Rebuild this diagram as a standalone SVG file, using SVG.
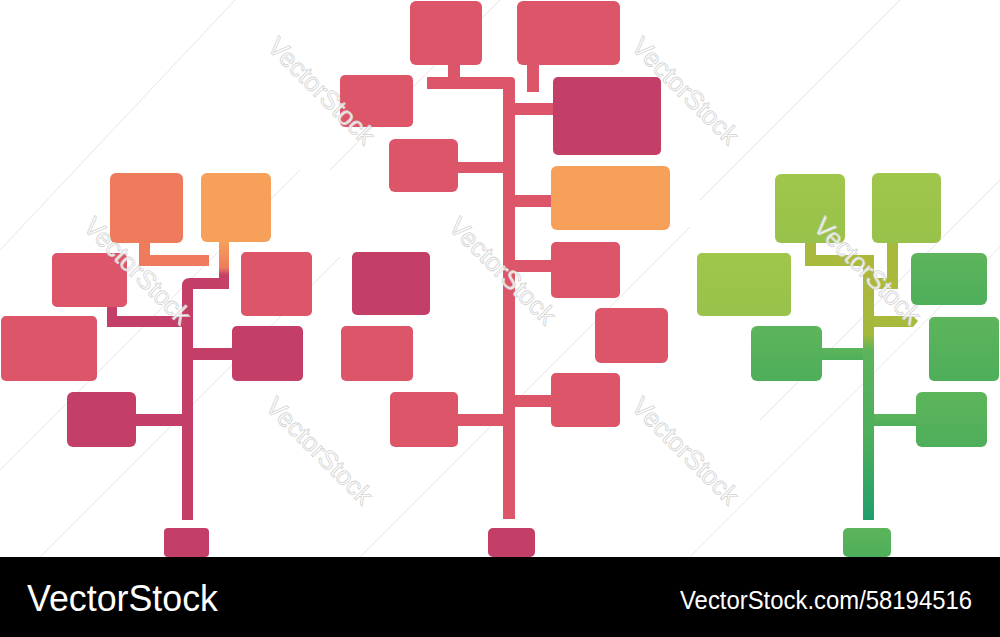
<svg xmlns="http://www.w3.org/2000/svg" width="1000" height="637" viewBox="0 0 1000 637">
<defs>
<style>
.pk{fill:#DD5569}
.dk{fill:#C43F67}
.o1{fill:#EE7B5C}
.o2{fill:#F7A05A}
.lg{fill:url(#gLight)}
.gr{fill:url(#gGreen)}
.ol{fill:#A9B93B}
.wm{font-family:"Liberation Sans",Arial,sans-serif;font-size:26px;fill:#ffffff;fill-opacity:0.85;stroke:#d4d4d4;stroke-width:0.8}
.wl{stroke:#e6e6e6;stroke-width:1}
.bar{font-family:"Liberation Sans",Arial,sans-serif;fill:#ffffff}
</style>
<linearGradient id="gLight" x1="0" y1="0" x2="0" y2="1">
<stop offset="0" stop-color="#A0C64B"/><stop offset="1" stop-color="#98C24B"/>
</linearGradient>
<linearGradient id="gGreen" x1="0" y1="0" x2="0" y2="1">
<stop offset="0" stop-color="#5DB55B"/><stop offset="1" stop-color="#4EAE5A"/>
</linearGradient>
<linearGradient id="gTrunk" gradientUnits="userSpaceOnUse" x1="0" y1="255" x2="0" y2="520">
<stop offset="0" stop-color="#AEB83A"/><stop offset="0.3" stop-color="#A5B83C"/><stop offset="0.36" stop-color="#5DB45B"/><stop offset="0.7" stop-color="#4CAE5C"/><stop offset="1" stop-color="#1F9F6C"/>
</linearGradient>
<linearGradient id="gStub" gradientUnits="userSpaceOnUse" x1="0" y1="242" x2="0" y2="289">
<stop offset="0" stop-color="#F7A05A"/><stop offset="0.55" stop-color="#EE7B5C"/><stop offset="0.7" stop-color="#C64068"/>
</linearGradient>
</defs>
<rect width="1000" height="637" fill="#ffffff"/>

<g id="watermark-lines">
<line class="wl" x1="0" y1="250" x2="235" y2="0"/>
<line class="wl" x1="0" y1="470" x2="300" y2="170"/>
<line class="wl" x1="40" y1="557" x2="340" y2="257"/>
<line class="wl" x1="330" y1="170" x2="500" y2="0"/>
<line class="wl" x1="360" y1="557" x2="690" y2="227"/>
<line class="wl" x1="700" y1="200" x2="900" y2="0"/>
<line class="wl" x1="690" y1="557" x2="1000" y2="247"/>
<line class="wl" x1="760" y1="420" x2="1000" y2="180"/>
</g>

<g id="connectors">
<rect class="o1" x="139" y="243" width="11" height="23"/>
<rect class="o1" x="139" y="255" width="70" height="11"/>
<rect x="219" y="242" width="10" height="47" fill="url(#gStub)"/>
<path class="dk" d="M182 520 V286 Q182 278 190 278 H219 V289 H193 V520 Z"/>
<rect class="dk" x="107" y="307" width="10" height="20"/>
<rect class="dk" x="107" y="316" width="75" height="11"/>
<rect class="dk" x="136" y="414" width="46" height="12"/>
<rect class="dk" x="193" y="348" width="39" height="12"/>
<rect class="pk" x="448" y="65" width="12" height="13"/>
<path class="pk" d="M427 77 H511 Q515 77 515 81 V519 H503 V89 H427 Z"/>
<rect class="pk" x="527" y="65" width="12" height="27"/>
<rect class="pk" x="515" y="103" width="38" height="12"/>
<rect class="pk" x="458" y="162" width="45" height="11"/>
<rect class="pk" x="515" y="195" width="36" height="12"/>
<rect class="pk" x="515" y="260" width="36" height="12"/>
<rect class="pk" x="515" y="395" width="36" height="12"/>
<rect class="pk" x="458" y="414" width="45" height="12"/>
<rect class="ol" x="805" y="243" width="11" height="23"/>
<rect class="ol" x="805" y="255" width="69" height="11"/>
<rect class="ol" x="887" y="243" width="11" height="46"/>
<rect class="ol" x="874" y="278" width="24" height="11"/>
<rect x="863" y="255" width="11" height="265" fill="url(#gTrunk)"/>
<path class="ol" d="M874 316 H913 L918 321 L913 327 H874 Z"/>
<rect class="gr" x="822" y="348" width="41" height="12"/>
<rect class="gr" x="874" y="414" width="42" height="12"/>
</g>

<g id="left-top-1"><rect class="o1" x="110" y="173" width="73" height="70" rx="6"/></g>
<g id="left-top-2"><rect class="o2" x="201" y="173" width="70" height="69" rx="6"/></g>
<g id="left-a"><rect class="pk" x="52" y="253" width="75" height="54" rx="5"/></g>
<g id="left-b"><rect class="pk" x="1" y="316" width="96" height="65" rx="5"/></g>
<g id="left-c"><rect class="dk" x="67" y="392" width="69" height="55" rx="6"/></g>
<g id="left-d"><rect class="pk" x="241" y="252" width="71" height="64" rx="5"/></g>
<g id="left-e"><rect class="dk" x="232" y="326" width="71" height="55" rx="5"/></g>
<g id="left-root"><rect class="dk" x="164" y="528" width="45" height="29" rx="4"/></g>

<g id="mid-top-1"><rect class="pk" x="410" y="1" width="72" height="64" rx="6"/></g>
<g id="mid-top-2"><rect class="pk" x="517" y="1" width="103" height="64" rx="6"/></g>
<g id="mid-l1"><rect class="pk" x="340" y="75" width="73" height="52" rx="5"/></g>
<g id="mid-r1"><rect class="dk" x="553" y="77" width="108" height="78" rx="5"/></g>
<g id="mid-l2"><rect class="pk" x="389" y="139" width="69" height="53" rx="6"/></g>
<g id="mid-r2"><rect class="o2" x="551" y="166" width="119" height="64" rx="6"/></g>
<g id="mid-r3"><rect class="pk" x="551" y="242" width="69" height="56" rx="5"/></g>
<g id="mid-l3"><rect class="dk" x="352" y="252" width="78" height="63" rx="5"/></g>
<g id="mid-r4"><rect class="pk" x="595" y="308" width="73" height="55" rx="6"/></g>
<g id="mid-l4"><rect class="pk" x="341" y="326" width="72" height="55" rx="5"/></g>
<g id="mid-r5"><rect class="pk" x="551" y="373" width="69" height="54" rx="5"/></g>
<g id="mid-l5"><rect class="pk" x="390" y="392" width="68" height="55" rx="5"/></g>
<g id="mid-root"><rect class="dk" x="488" y="528" width="47" height="29" rx="5"/></g>

<g id="right-top-1"><rect class="lg" x="775" y="174" width="70" height="69" rx="6"/></g>
<g id="right-top-2"><rect class="lg" x="872" y="173" width="69" height="70" rx="6"/></g>
<g id="right-l1"><rect class="lg" x="697" y="253" width="94" height="63" rx="5"/></g>
<g id="right-l2"><rect class="gr" x="751" y="326" width="71" height="55" rx="6"/></g>
<g id="right-r1"><rect class="gr" x="911" y="253" width="76" height="52" rx="6"/></g>
<g id="right-r2"><rect class="gr" x="929" y="317" width="70" height="64" rx="5"/></g>
<g id="right-r3"><rect class="gr" x="916" y="392" width="71" height="55" rx="6"/></g>
<g id="right-root"><rect class="gr" x="843" y="528" width="48" height="29" rx="5"/></g>

<g id="watermarks">
<text class="wm" transform="translate(266,48) rotate(45)">VectorStock</text>
<text class="wm" transform="translate(82,228) rotate(45)">VectorStock</text>
<text class="wm" transform="translate(447,228) rotate(45)">VectorStock</text>
<text class="wm" transform="translate(630,48) rotate(45)">VectorStock</text>
<text class="wm" transform="translate(812,228) rotate(45)">VectorStock</text>
<text class="wm" transform="translate(264,408) rotate(45)">VectorStock</text>
<text class="wm" transform="translate(630,408) rotate(45)">VectorStock</text>
</g>

<g id="footer">
<rect x="0" y="557" width="1000" height="80" fill="#000000"/>
<text class="bar" x="27" y="611" font-size="36" textLength="191" lengthAdjust="spacingAndGlyphs">VectorStock</text>
<text class="bar" x="680" y="609" font-size="26" textLength="292" lengthAdjust="spacingAndGlyphs">VectorStock.com/58194516</text>
</g>
</svg>
